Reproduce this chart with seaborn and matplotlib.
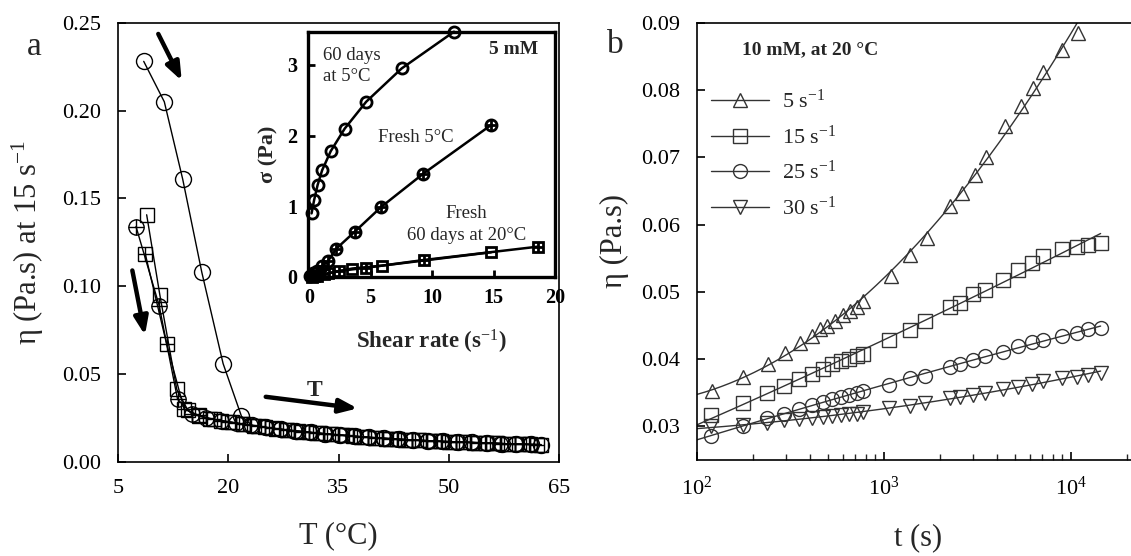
import numpy as np
import matplotlib
matplotlib.use("Agg")
import matplotlib.pyplot as plt
from matplotlib.lines import Line2D
import seaborn as sns

# ---------------- data: panel a (viscosity vs temperature at 15 s-1) ----------------
T_circ = [8.5, 11.3, 13.8, 16.4, 19.3, 21.8, 23.2, 25.2, 27.2, 29.2, 31.2, 33.2, 35.2, 37.2,
          39.2, 41.2, 43.2, 45.2, 47.2, 49.2, 51.2, 53.2, 55.2, 57.2, 59.2, 61.2, 62.6]
eta_circ = [0.228, 0.205, 0.161, 0.108, 0.056, 0.026, 0.0210, 0.0197, 0.0186, 0.0177, 0.0168,
            0.0160, 0.0153, 0.0146, 0.0140, 0.0135, 0.0130, 0.0125, 0.0121, 0.0117, 0.0114,
            0.0111, 0.0108, 0.0105, 0.0102, 0.0100, 0.0099]

T_sq = [8.9, 10.7, 13.0, 14.5, 16.0, 17.5, 19.0, 20.5, 22.0, 23.5, 25.0, 26.5, 28.0, 29.5,
        31.0, 32.5, 34.0, 35.5, 37.0, 38.5, 40.0, 41.5, 43.0, 44.5, 46.0, 47.5, 49.0, 50.5,
        52.0, 53.5, 55.0, 56.5, 58.0, 59.5, 61.0, 62.5]
eta_sq = [0.1407, 0.0949, 0.0413, 0.0295, 0.0262, 0.0246, 0.0235, 0.0225, 0.0215, 0.0206,
          0.0197, 0.0189, 0.0182, 0.0175, 0.0169, 0.0163, 0.0157, 0.0152, 0.0147, 0.0142,
          0.0137, 0.0133, 0.0129, 0.0126, 0.0123, 0.0120, 0.0117, 0.0115, 0.0113, 0.0110,
          0.0108, 0.0106, 0.0104, 0.0102, 0.0100, 0.0098]

T_sqplus = [8.7, 11.6, 14.0, 16.0, 18.0, 20.0, 22.0, 24.0, 26.0, 28.0, 30.0, 32.0, 34.0, 36.0,
            38.0, 40.0, 42.0, 44.0, 46.0, 48.0, 50.0, 52.0, 54.0, 56.0, 58.0, 60.0, 62.0]
eta_sqplus = [0.1186, 0.0674, 0.0300, 0.0265, 0.0243, 0.0229, 0.0216, 0.0203, 0.0192, 0.0182,
              0.0173, 0.0165, 0.0158, 0.0151, 0.0144, 0.0138, 0.0133, 0.0128, 0.0124, 0.0120,
              0.0116, 0.0113, 0.0110, 0.0107, 0.0104, 0.0101, 0.0099]

T_circplus = [7.45, 10.6, 13.1, 15.0, 17.0, 19.0, 21.0, 23.0, 25.0, 27.0, 29.0, 31.0, 33.0,
              35.0, 37.0, 39.0, 41.0, 43.0, 45.0, 47.0, 49.0, 51.0, 53.0, 55.0, 57.0, 59.0, 61.0]
eta_circplus = [0.134, 0.089, 0.0358, 0.0275, 0.0250, 0.0235, 0.0222, 0.0209, 0.0197, 0.0187,
                0.0177, 0.0169, 0.0161, 0.0154, 0.0147, 0.0141, 0.0135, 0.0130, 0.0125, 0.0121,
                0.0117, 0.0114, 0.0111, 0.0108, 0.0105, 0.0102, 0.0100]

# ---------------- data: inset (flow curves, 5 mM) ----------------
gd_60d5 = [0.19, 0.40, 0.68, 1.05, 1.75, 2.89, 4.64, 7.52, 11.78]
sig_60d5 = [0.90, 1.09, 1.30, 1.51, 1.78, 2.10, 2.48, 2.95, 3.47]
gd_fresh5 = [0.1, 0.3, 0.6, 1.0, 1.5, 2.2, 3.7, 5.85, 9.27, 14.8]
sig_fresh5 = [0.02, 0.05, 0.09, 0.15, 0.22, 0.40, 0.64, 0.99, 1.46, 2.15]
gd_fresh20 = [0.2, 0.6, 1.2, 2.4, 4.6, 9.3, 18.65]
sig_fresh20 = [0.0, 0.02, 0.04, 0.085, 0.13, 0.24, 0.43]
gd_aged20 = [0.4, 1.5, 3.5, 5.9, 14.8]
sig_aged20 = [0.01, 0.05, 0.12, 0.16, 0.35]

# ---------------- data: panel b (viscosity vs time, 10 mM at 20 °C) ----------------
t_5 = [120, 177, 239, 296, 356, 410, 455, 494, 547, 606, 658, 714, 775, 1087, 1377, 1691,
       2254, 2602, 3067, 3512, 4434, 5380, 6286, 7112, 8990, 10950]
eta_5 = [0.0352, 0.0374, 0.0392, 0.0409, 0.0424, 0.0434, 0.0444, 0.0449, 0.0456, 0.0466,
         0.0471, 0.0478, 0.0486, 0.0523, 0.0555, 0.0580, 0.0628, 0.0647, 0.0674, 0.0701,
         0.0746, 0.0776, 0.0803, 0.0826, 0.0859, 0.0885]
t_rest = [119, 177, 236, 293, 352, 410, 473, 530, 590, 650, 714, 775, 1070, 1370, 1660, 2254,
          2550, 3000, 3470, 4345, 5230, 6150, 7080, 8950, 10720, 12370, 14400]
eta_15 = [0.0317, 0.0335, 0.0350, 0.0360, 0.0370, 0.0378, 0.0385, 0.0392, 0.0397, 0.0400,
          0.0404, 0.0408, 0.0429, 0.0443, 0.0456, 0.0478, 0.0484, 0.0496, 0.0503, 0.0518,
          0.0532, 0.0543, 0.0553, 0.0563, 0.0566, 0.0570, 0.0573]
eta_25 = [0.0286, 0.0300, 0.0312, 0.0319, 0.0326, 0.0332, 0.0336, 0.0341, 0.0344, 0.0347,
          0.0350, 0.0353, 0.0362, 0.0372, 0.0375, 0.0388, 0.0392, 0.0399, 0.0404, 0.0411,
          0.0419, 0.0425, 0.0429, 0.0435, 0.0439, 0.0444, 0.0446]
eta_30 = [0.0300, 0.0302, 0.0305, 0.0310, 0.0311, 0.0312, 0.0314, 0.0316, 0.0317, 0.0319,
          0.0319, 0.0321, 0.0327, 0.0330, 0.0334, 0.0342, 0.0344, 0.0347, 0.0350, 0.0356,
          0.0359, 0.0363, 0.0367, 0.0372, 0.0374, 0.0377, 0.0379]
rate_labels = ["5 s$^{-1}$", "15 s$^{-1}$", "25 s$^{-1}$", "30 s$^{-1}$"]

# ---------------- style ----------------
sns.set_theme(style="ticks")
plt.rcParams["font.family"] = ["Liberation Serif", "DejaVu Serif"]
plt.rcParams["mathtext.fontset"] = "custom"
plt.rcParams["mathtext.rm"] = "Liberation Serif"
plt.rcParams["mathtext.it"] = "Liberation Serif:italic"
plt.rcParams["mathtext.bf"] = "Liberation Serif:bold"
plt.rcParams["axes.unicode_minus"] = False

W, H = 1131, 556
fig = plt.figure(figsize=(W / 100, H / 100), dpi=100)


def px_axes(x0, y0, x1, y1):
    return [x0 / W, 1 - y1 / H, (x1 - x0) / W, (y1 - y0) / H]


def style_axes(ax, lw=1.2, size=16, pad=12):
    for s in ax.spines.values():
        s.set_linewidth(lw)
        s.set_color("black")
    ax.tick_params(direction="in", length=6, width=lw, labelsize=size, pad=pad,
                   colors="black", top=False, right=False)


def series(ax, x, y, marker, ms, mew=1.0, lw=1.0, line=True, color="black", z=3):
    sns.lineplot(x=x, y=y, ax=ax, marker=marker, markersize=ms, markerfacecolor="none",
                 markeredgecolor=color, markeredgewidth=mew, color=color,
                 linewidth=lw if line else 0, linestyle="-" if line else "none",
                 sort=False, estimator=None, zorder=z, clip_on=False)


# ---------------- panel a ----------------
axa = fig.add_axes(px_axes(118, 22.7, 559, 462))
style_axes(axa)
axa.set_xlim(5, 65)
axa.set_ylim(0, 0.25)
axa.set_xticks([5, 20, 35, 50, 65])
axa.set_yticks([0, 0.05, 0.10, 0.15, 0.20, 0.25])
axa.set_yticklabels(["0.00", "0.05", "0.10", "0.15", "0.20", "0.25"])

series(axa, T_sq, eta_sq, "s", 10)
series(axa, T_sqplus, eta_sqplus, "s", 10)
series(axa, T_sqplus, eta_sqplus, "+", 10, line=False)
series(axa, T_circplus, eta_circplus, "o", 11)
series(axa, T_circplus, eta_circplus, "+", 11, line=False)
series(axa, T_circ, eta_circ, "o", 11.5)

axa.set_xlabel("T (°C)", fontsize=22, labelpad=17)
axa.set_ylabel("η (Pa.s) at 15 s$^{-1}$", fontsize=22, labelpad=12)

arrow_kw = dict(arrowstyle="-|>,head_length=0.9,head_width=0.35", lw=3.2, color="black",
                shrinkA=0, shrinkB=0)
axa.annotate("", xy=(13.67, 0.217), xytext=(10.48, 0.2436), arrowprops=arrow_kw)
axa.annotate("", xy=(8.67, 0.0722), xytext=(6.95, 0.109), arrowprops=arrow_kw)
axa.annotate("", xy=(37.6, 0.0305), xytext=(25.1, 0.0371), arrowprops=arrow_kw)
axa.text(31.8, 0.0409, "T", fontsize=17, fontweight="bold", ha="center", va="center")

fig.text(34 / W, 1 - 47 / H, "a", fontsize=24, ha="center", va="center")

# ---------------- inset ----------------
axi = fig.add_axes(px_axes(308, 31.7, 555, 277))
axi.set_facecolor("white")
axi.set_zorder(5)
for s in axi.spines.values():
    s.set_linewidth(2.4)
    s.set_color("black")
axi.tick_params(direction="in", length=5, width=2, labelsize=14.5, pad=8,
                colors="black", top=False, right=False)
axi.set_xlim(-0.1, 19.86)
axi.set_ylim(0, 3.47)
axi.set_xticks([0, 5, 10, 15, 20])
axi.set_yticks([0, 1, 2, 3])
axi.set_xticklabels(["0", "5", "10", "15", "20"], fontweight="bold")
axi.set_yticklabels(["0", "1", "2", "3"], fontweight="bold")

series(axi, gd_fresh20, sig_fresh20, "s", 7.5, mew=2, lw=1.8)
series(axi, gd_fresh20, sig_fresh20, "+", 7.5, mew=2, line=False)
series(axi, gd_aged20, sig_aged20, "s", 7.5, mew=2, lw=1.8)
series(axi, gd_fresh5, sig_fresh5, "o", 8, mew=2, lw=1.8)
series(axi, gd_fresh5, sig_fresh5, "+", 8, mew=2, line=False)
series(axi, gd_60d5, sig_60d5, "o", 8, mew=2, lw=1.8)

axi.set_xlabel("Shear rate (s$^{-1}$)", fontsize=16.5, fontweight="bold", labelpad=14)
axi.set_ylabel("σ (Pa)", fontsize=16, fontweight="bold", labelpad=6)

fig.text(323 / W, 1 - 66 / H, "60 days\nat 5°C", fontsize=13.5, ha="left", va="center",
         linespacing=1.3, zorder=10)
fig.text(514 / W, 1 - 50 / H, "5 mM", fontsize=14, fontweight="bold", ha="center",
         va="center", zorder=10)
fig.text(416 / W, 1 - 137 / H, "Fresh 5°C", fontsize=13.5, ha="center", va="center", zorder=10)
fig.text(466 / W, 1 - 213 / H, "Fresh", fontsize=13.5, ha="center", va="center", zorder=10)
fig.text(467 / W, 1 - 235 / H, "60 days at 20°C", fontsize=13.5, ha="center", va="center",
         zorder=10)

# ---------------- panel b ----------------
right_px = 1140
axb = fig.add_axes(px_axes(697, 22.7, right_px, 460))
style_axes(axb)
axb.spines["right"].set_visible(False)
axb.set_xscale("log")
axb.set_xlim(100, 10 ** (2 + (right_px - 697) / 187.0))
axb.set_ylim(0.025, 0.09)
axb.set_yticks([0.03, 0.04, 0.05, 0.06, 0.07, 0.08, 0.09])
axb.set_yticklabels(["0.03", "0.04", "0.05", "0.06", "0.07", "0.08", "0.09"])
axb.set_xticks([100, 1000, 10000])
axb.set_xticklabels(["10$^{2}$", "10$^{3}$", "10$^{4}$"])
axb.tick_params(which="minor", direction="in", length=4, width=1.0, top=False)

b_sets = [(t_5, eta_5, "^", 1.35), (t_rest, eta_15, "s", 1.0),
          (t_rest, eta_25, "o", 1.0), (t_rest, eta_30, "v", 1.0)]
line_col = "#333333"
for tt, ee, mk, ext in b_sets:
    lt = np.log10(tt)
    coef = np.polyfit(lt, ee, 2)
    grid = np.linspace(2.0, lt.max() + np.log10(ext), 200)
    sns.lineplot(x=10 ** grid, y=np.polyval(coef, grid), ax=axb, color=line_col,
                 linewidth=1.0, sort=False, estimator=None, zorder=2)
    sns.lineplot(x=tt, y=ee, ax=axb, marker=mk, markersize=10, markerfacecolor="none",
                 markeredgecolor=line_col, markeredgewidth=1.0, linestyle="none",
                 sort=False, estimator=None, zorder=3, clip_on=False)

handles = [Line2D([], [], color=line_col, lw=1.0, marker=m, ms=10, mfc="none",
                  mec=line_col, mew=1.0) for m in ["^", "s", "o", "v"]]
axb.legend(handles, rate_labels, loc="upper left", bbox_to_anchor=(711 / W, 1 - 90 / H),
           bbox_transform=fig.transFigure, frameon=False, fontsize=16, handlelength=2.6,
           handletextpad=0.6, labelspacing=0.55, borderpad=0, borderaxespad=0)

axb.set_xlabel("t (s)", fontsize=22, labelpad=17)
axb.set_ylabel("η (Pa.s)", fontsize=22, labelpad=9)
fig.text(810 / W, 1 - 50 / H, "10 mM, at 20 °C", fontsize=14, fontweight="bold",
         ha="center", va="center")
fig.text(615 / W, 1 - 45 / H, "b", fontsize=24, ha="center", va="center")

fig.savefig("out.png", dpi=100, facecolor="white")
